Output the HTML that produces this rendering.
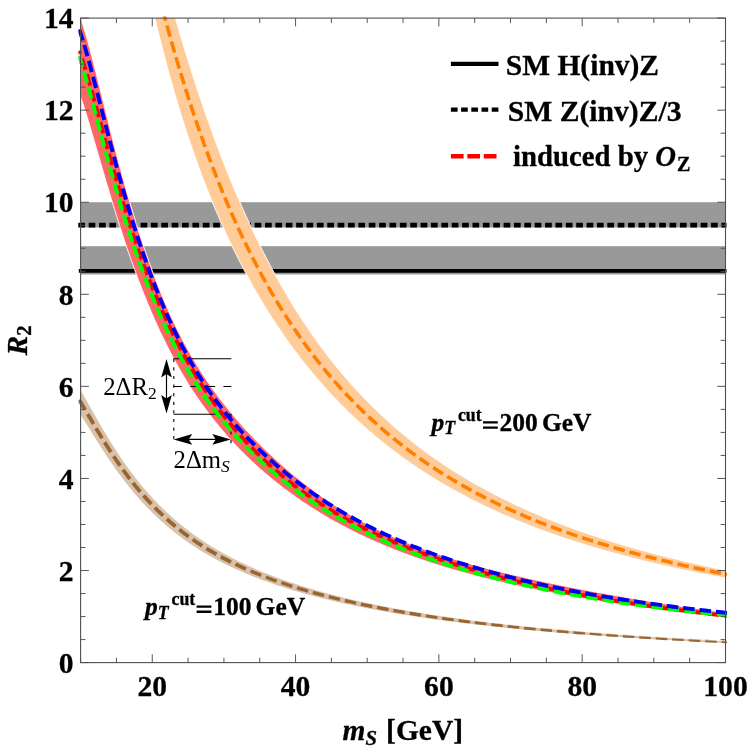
<!DOCTYPE html>
<html><head><meta charset="utf-8">
<style>
html,body{margin:0;padding:0;background:#fff;}
svg{display:block;will-change:transform;font-family:"Liberation Serif",serif;}
.b{font-weight:bold;stroke:#000;stroke-width:0.3px;}
.r{font-weight:normal;}
.bi{font-weight:bold;font-style:italic;stroke:#000;stroke-width:0.3px;}
</style></head>
<body>
<svg width="747" height="747" viewBox="0 0 747 747">
<rect width="747" height="747" fill="#fff"/>
<defs><clipPath id="cp"><rect x="78.4" y="16.5" width="649.3" height="646.1"/></clipPath><clipPath id="cb"><rect x="80.6" y="18.1" width="644.9" height="644.5"/></clipPath></defs>

<!-- grey SM bands + lines -->
<rect x="80.6" y="202.2" width="644.9" height="25.3" fill="#999"/>
<rect x="80.6" y="246.2" width="644.9" height="28.3" fill="#999"/>
<path d="M78.8 270.9H726.5" stroke="#000" stroke-width="3.9" fill="none"/>
<path d="M78.3 225.15H726.5" stroke="#000" stroke-width="4.6" stroke-dasharray="6.7 3.673" fill="none"/>

<g clip-path="url(#cb)">
<!-- bands -->
<path d="M80.60 -366.23 L81.15 -364.64 L81.71 -362.99 L82.27 -361.30 L82.84 -359.55 L83.41 -357.76 L83.99 -355.92 L84.57 -354.02 L85.15 -352.08 L85.74 -350.09 L86.34 -348.05 L86.93 -345.97 L87.54 -343.83 L88.14 -341.65 L88.76 -339.42 L89.37 -337.15 L90.00 -334.83 L90.62 -332.46 L91.25 -330.05 L91.89 -327.60 L92.53 -325.10 L93.18 -322.56 L93.83 -319.97 L94.49 -317.34 L95.15 -314.67 L95.81 -311.95 L96.48 -309.20 L97.16 -306.40 L97.84 -303.56 L98.53 -300.68 L99.22 -297.76 L99.92 -294.81 L100.62 -291.81 L101.33 -288.77 L102.05 -285.70 L102.77 -282.59 L103.49 -279.44 L104.22 -276.25 L104.96 -273.03 L105.70 -269.77 L106.45 -266.48 L107.20 -263.15 L107.96 -259.79 L108.73 -256.40 L109.50 -252.97 L110.28 -249.51 L111.06 -246.01 L111.85 -242.49 L112.65 -238.93 L113.45 -235.34 L114.26 -231.73 L115.07 -228.08 L115.89 -224.40 L116.72 -220.70 L117.55 -216.97 L118.39 -213.21 L119.24 -209.42 L120.09 -205.61 L120.95 -201.77 L121.81 -197.90 L122.69 -194.02 L123.57 -190.10 L124.45 -186.16 L125.34 -182.20 L126.24 -178.22 L127.15 -174.21 L128.06 -170.19 L128.99 -166.14 L129.91 -162.07 L130.85 -157.98 L131.79 -153.87 L132.74 -149.75 L133.70 -145.60 L134.66 -141.44 L135.63 -137.25 L136.61 -133.06 L137.60 -128.84 L138.60 -124.61 L139.60 -120.37 L140.61 -116.11 L141.63 -111.83 L142.65 -107.54 L143.68 -103.24 L144.73 -98.93 L145.78 -94.60 L146.83 -90.27 L147.90 -85.92 L148.97 -81.56 L150.06 -77.19 L151.15 -72.81 L152.25 -68.42 L153.35 -64.03 L154.47 -59.62 L155.60 -55.21 L156.73 -50.79 L157.87 -46.37 L159.02 -41.93 L160.18 -37.50 L161.35 -33.05 L162.53 -28.61 L163.72 -24.16 L164.91 -19.70 L166.12 -15.25 L167.34 -10.79 L168.56 -6.32 L169.79 -1.86 L171.04 2.61 L172.29 7.07 L173.55 11.54 L174.83 16.01 L176.11 20.47 L177.40 24.94 L178.70 29.40 L180.02 33.86 L181.34 38.32 L182.67 42.78 L184.01 47.23 L185.37 51.68 L186.73 56.13 L188.11 60.57 L189.49 65.01 L190.89 69.44 L192.29 73.87 L193.71 78.29 L195.14 82.70 L196.58 87.11 L198.03 91.51 L199.49 95.90 L200.96 100.28 L202.45 104.66 L203.94 109.03 L205.45 113.39 L206.97 117.74 L208.50 122.08 L210.04 126.41 L211.60 130.73 L213.16 135.03 L214.74 139.33 L216.33 143.62 L217.94 147.89 L219.55 152.16 L221.18 156.41 L222.82 160.64 L224.48 164.87 L226.14 169.08 L227.82 173.28 L229.51 177.46 L231.22 181.64 L232.94 185.79 L234.67 189.93 L236.41 194.06 L238.17 198.17 L239.94 202.27 L241.73 206.35 L243.53 210.41 L245.34 214.46 L247.17 218.49 L249.01 222.51 L250.87 226.51 L252.74 230.49 L254.62 234.45 L256.52 238.40 L258.44 242.32 L260.36 246.23 L262.31 250.11 L264.27 253.98 L266.24 257.83 L268.23 261.65 L270.23 265.46 L272.25 269.24 L274.29 273.01 L276.34 276.75 L278.41 280.47 L280.49 284.17 L282.59 287.84 L284.71 291.49 L286.84 295.13 L288.99 298.73 L291.15 302.32 L293.33 305.88 L295.53 309.42 L297.75 312.93 L299.98 316.42 L302.23 319.89 L304.50 323.33 L306.78 326.75 L309.08 330.14 L311.40 333.51 L313.74 336.86 L316.10 340.18 L318.47 343.48 L320.87 346.75 L323.28 349.99 L325.71 353.21 L328.16 356.41 L330.62 359.58 L333.11 362.73 L335.62 365.85 L338.14 368.95 L340.69 372.02 L343.25 375.06 L345.84 378.08 L348.44 381.08 L351.07 384.05 L353.71 386.99 L356.38 389.91 L359.06 392.81 L361.77 395.68 L364.50 398.53 L367.24 401.35 L370.01 404.14 L372.81 406.92 L375.62 409.67 L378.45 412.39 L381.31 415.09 L384.19 417.77 L387.09 420.42 L390.01 423.05 L392.96 425.66 L395.93 428.24 L398.92 430.80 L401.93 433.33 L404.97 435.84 L408.03 438.33 L411.12 440.80 L414.23 443.24 L417.36 445.67 L420.52 448.06 L423.70 450.44 L426.91 452.80 L430.14 455.13 L433.39 457.44 L436.67 459.72 L439.98 461.99 L443.31 464.24 L446.67 466.46 L450.06 468.66 L453.47 470.84 L456.90 473.00 L460.36 475.14 L463.85 477.26 L467.37 479.35 L470.92 481.43 L474.49 483.48 L478.09 485.52 L481.71 487.54 L485.37 489.53 L489.05 491.51 L492.76 493.46 L496.50 495.40 L500.27 497.31 L504.07 499.21 L507.90 501.09 L511.75 502.95 L515.64 504.79 L519.56 506.61 L523.51 508.41 L527.48 510.19 L531.49 511.96 L535.53 513.71 L539.60 515.44 L543.71 517.15 L547.84 518.84 L552.01 520.51 L556.20 522.17 L560.43 523.81 L564.70 525.44 L568.99 527.04 L573.32 528.63 L577.69 530.20 L582.08 531.76 L586.51 533.30 L590.98 534.82 L595.48 536.33 L600.01 537.82 L604.58 539.29 L609.19 540.75 L613.83 542.19 L618.50 543.62 L623.22 545.03 L627.96 546.42 L632.75 547.80 L637.57 549.17 L642.43 550.52 L647.33 551.85 L652.26 553.17 L657.24 554.48 L662.25 555.77 L667.30 557.05 L672.39 558.31 L677.52 559.56 L682.69 560.79 L687.90 562.01 L693.14 563.22 L698.43 564.41 L703.76 565.59 L709.14 566.76 L714.55 567.92 L720.00 569.06 L725.50 570.18 L725.50 577.98 L720.00 576.97 L714.55 575.96 L709.14 574.94 L703.76 573.90 L698.43 572.85 L693.14 571.79 L687.90 570.71 L682.69 569.63 L677.52 568.53 L672.39 567.42 L667.30 566.29 L662.25 565.16 L657.24 564.01 L652.26 562.85 L647.33 561.67 L642.43 560.48 L637.57 559.28 L632.75 558.07 L627.96 556.84 L623.22 555.60 L618.50 554.34 L613.83 553.07 L609.19 551.79 L604.58 550.49 L600.01 549.18 L595.48 547.85 L590.98 546.51 L586.51 545.16 L582.08 543.79 L577.69 542.41 L573.32 541.01 L568.99 539.59 L564.70 538.17 L560.43 536.72 L556.20 535.26 L552.01 533.79 L547.84 532.30 L543.71 530.80 L539.60 529.28 L535.53 527.74 L531.49 526.19 L527.48 524.62 L523.51 523.04 L519.56 521.44 L515.64 519.82 L511.75 518.19 L507.90 516.54 L504.07 514.88 L500.27 513.20 L496.50 511.50 L492.76 509.79 L489.05 508.06 L485.37 506.31 L481.71 504.54 L478.09 502.76 L474.49 500.96 L470.92 499.15 L467.37 497.31 L463.85 495.46 L460.36 493.60 L456.90 491.71 L453.47 489.81 L450.06 487.89 L446.67 485.95 L443.31 483.99 L439.98 482.02 L436.67 480.03 L433.39 478.02 L430.14 475.99 L426.91 473.95 L423.70 471.89 L420.52 469.81 L417.36 467.71 L414.23 465.59 L411.12 463.46 L408.03 461.30 L404.97 459.13 L401.93 456.94 L398.92 454.73 L395.93 452.51 L392.96 450.26 L390.01 448.00 L387.09 445.72 L384.19 443.42 L381.31 441.10 L378.45 438.77 L375.62 436.41 L372.81 434.04 L370.01 431.65 L367.24 429.24 L364.50 426.81 L361.77 424.37 L359.06 421.90 L356.38 419.42 L353.71 416.92 L351.07 414.40 L348.44 411.87 L345.84 409.31 L343.25 406.74 L340.69 404.15 L338.14 401.54 L335.62 398.92 L333.11 396.27 L330.62 393.61 L328.16 390.93 L325.71 388.24 L323.28 385.52 L320.87 382.79 L318.47 380.04 L316.10 377.28 L313.74 374.49 L311.40 371.69 L309.08 368.87 L306.78 366.03 L304.50 363.18 L302.23 360.30 L299.98 357.41 L297.75 354.50 L295.53 351.57 L293.33 348.63 L291.15 345.66 L288.99 342.68 L286.84 339.68 L284.71 336.66 L282.59 333.62 L280.49 330.57 L278.41 327.49 L276.34 324.40 L274.29 321.29 L272.25 318.16 L270.23 315.01 L268.23 311.84 L266.24 308.65 L264.27 305.45 L262.31 302.22 L260.36 298.98 L258.44 295.72 L256.52 292.44 L254.62 289.14 L252.74 285.82 L250.87 282.48 L249.01 279.12 L247.17 275.74 L245.34 272.35 L243.53 268.93 L241.73 265.50 L239.94 262.04 L238.17 258.57 L236.41 255.07 L234.67 251.56 L232.94 248.02 L231.22 244.47 L229.51 240.89 L227.82 237.30 L226.14 233.69 L224.48 230.05 L222.82 226.40 L221.18 222.72 L219.55 219.03 L217.94 215.31 L216.33 211.58 L214.74 207.82 L213.16 204.04 L211.60 200.24 L210.04 196.43 L208.50 192.59 L206.97 188.72 L205.45 184.84 L203.94 180.94 L202.45 177.02 L200.96 173.07 L199.49 169.10 L198.03 165.11 L196.58 161.10 L195.14 157.07 L193.71 153.02 L192.29 148.94 L190.89 144.84 L189.49 140.72 L188.11 136.58 L186.73 132.42 L185.37 128.23 L184.01 124.02 L182.67 119.79 L181.34 115.54 L180.02 111.26 L178.70 106.96 L177.40 102.63 L176.11 98.29 L174.83 93.92 L173.55 89.52 L172.29 85.11 L171.04 80.67 L169.79 76.20 L168.56 71.71 L167.34 67.20 L166.12 62.66 L164.91 58.10 L163.72 53.52 L162.53 48.91 L161.35 44.27 L160.18 39.61 L159.02 34.93 L157.87 30.22 L156.73 25.48 L155.60 20.72 L154.47 15.94 L153.35 11.12 L152.25 6.28 L151.15 1.42 L150.06 -3.47 L148.97 -8.39 L147.90 -13.33 L146.83 -18.30 L145.78 -23.30 L144.73 -28.33 L143.68 -33.38 L142.65 -38.46 L141.63 -43.57 L140.61 -48.70 L139.60 -53.87 L138.60 -59.06 L137.60 -64.28 L136.61 -69.53 L135.63 -74.81 L134.66 -80.12 L133.70 -85.46 L132.74 -90.82 L131.79 -96.22 L130.85 -101.65 L129.91 -107.10 L128.99 -112.59 L128.06 -118.11 L127.15 -123.66 L126.24 -129.24 L125.34 -134.86 L124.45 -140.50 L123.57 -146.18 L122.69 -151.88 L121.81 -157.63 L120.95 -163.40 L120.09 -169.21 L119.24 -175.05 L118.39 -180.92 L117.55 -186.83 L116.72 -192.77 L115.89 -198.75 L115.07 -204.76 L114.26 -210.81 L113.45 -216.89 L112.65 -223.01 L111.85 -229.16 L111.06 -235.35 L110.28 -241.58 L109.50 -247.84 L108.73 -254.14 L107.96 -260.48 L107.20 -266.86 L106.45 -273.28 L105.70 -279.73 L104.96 -286.22 L104.22 -292.76 L103.49 -299.33 L102.77 -305.94 L102.05 -312.60 L101.33 -319.29 L100.62 -326.03 L99.92 -332.81 L99.22 -339.63 L98.53 -346.49 L97.84 -353.39 L97.16 -360.34 L96.48 -367.34 L95.81 -374.37 L95.15 -381.45 L94.49 -388.58 L93.83 -395.75 L93.18 -402.97 L92.53 -410.24 L91.89 -417.55 L91.25 -424.91 L90.62 -432.32 L90.00 -439.78 L89.37 -447.28 L88.76 -454.84 L88.14 -462.44 L87.54 -470.10 L86.93 -477.80 L86.34 -485.56 L85.74 -493.37 L85.15 -501.24 L84.57 -509.15 L83.99 -517.12 L83.41 -525.15 L82.84 -533.23 L82.27 -541.36 L81.71 -549.55 L81.15 -557.80 L80.60 -566.11Z" fill="#ffcc99" stroke="#fff" stroke-width="0.9"/>
<path d="M80.60 18.08 L81.15 19.66 L81.71 21.31 L82.27 23.00 L82.84 24.75 L83.41 26.55 L83.99 28.40 L84.57 30.30 L85.15 32.25 L85.74 34.25 L86.34 36.30 L86.93 38.39 L87.54 40.53 L88.14 42.71 L88.76 44.93 L89.37 47.20 L90.00 49.50 L90.62 51.85 L91.25 54.24 L91.89 56.66 L92.53 59.12 L93.18 61.62 L93.83 64.15 L94.49 66.72 L95.15 69.32 L95.81 71.95 L96.48 74.61 L97.16 77.30 L97.84 80.02 L98.53 82.78 L99.22 85.55 L99.92 88.36 L100.62 91.19 L101.33 94.04 L102.05 96.92 L102.77 99.82 L103.49 102.74 L104.22 105.68 L104.96 108.64 L105.70 111.62 L106.45 114.62 L107.20 117.64 L107.96 120.67 L108.73 123.72 L109.50 126.78 L110.28 129.85 L111.06 132.94 L111.85 136.04 L112.65 139.15 L113.45 142.27 L114.26 145.40 L115.07 148.54 L115.89 151.69 L116.72 154.85 L117.55 158.01 L118.39 161.17 L119.24 164.35 L120.09 167.52 L120.95 170.70 L121.81 173.88 L122.69 177.07 L123.57 180.25 L124.45 183.44 L125.34 186.63 L126.24 189.81 L127.15 193.00 L128.06 196.18 L128.99 199.36 L129.91 202.54 L130.85 205.71 L131.79 208.88 L132.74 212.04 L133.70 215.20 L134.66 218.36 L135.63 221.50 L136.61 224.64 L137.60 227.78 L138.60 230.90 L139.60 234.02 L140.61 237.13 L141.63 240.22 L142.65 243.31 L143.68 246.39 L144.73 249.46 L145.78 252.51 L146.83 255.56 L147.90 258.59 L148.97 261.61 L150.06 264.62 L151.15 267.62 L152.25 270.60 L153.35 273.57 L154.47 276.52 L155.60 279.46 L156.73 282.39 L157.87 285.30 L159.02 288.19 L160.18 291.07 L161.35 293.94 L162.53 296.79 L163.72 299.62 L164.91 302.43 L166.12 305.23 L167.34 308.02 L168.56 310.78 L169.79 313.53 L171.04 316.26 L172.29 318.97 L173.55 321.66 L174.83 324.34 L176.11 327.00 L177.40 329.64 L178.70 332.26 L180.02 334.86 L181.34 337.44 L182.67 340.01 L184.01 342.55 L185.37 345.08 L186.73 347.59 L188.11 350.07 L189.49 352.54 L190.89 354.99 L192.29 357.42 L193.71 359.83 L195.14 362.22 L196.58 364.59 L198.03 366.94 L199.49 369.28 L200.96 371.60 L202.45 373.90 L203.94 376.19 L205.45 378.46 L206.97 380.71 L208.50 382.95 L210.04 385.18 L211.60 387.39 L213.16 389.59 L214.74 391.78 L216.33 393.95 L217.94 396.11 L219.55 398.25 L221.18 400.39 L222.82 402.51 L224.48 404.62 L226.14 406.72 L227.82 408.81 L229.51 410.89 L231.22 412.96 L232.94 415.01 L234.67 417.06 L236.41 419.10 L238.17 421.13 L239.94 423.15 L241.73 425.16 L243.53 427.16 L245.34 429.16 L247.17 431.14 L249.01 433.12 L250.87 435.09 L252.74 437.05 L254.62 439.00 L256.52 440.95 L258.44 442.89 L260.36 444.82 L262.31 446.75 L264.27 448.66 L266.24 450.58 L268.23 452.48 L270.23 454.38 L272.25 456.27 L274.29 458.16 L276.34 460.03 L278.41 461.91 L280.49 463.77 L282.59 465.63 L284.71 467.49 L286.84 469.33 L288.99 471.17 L291.15 473.00 L293.33 474.83 L295.53 476.64 L297.75 478.45 L299.98 480.24 L302.23 482.03 L304.50 483.81 L306.78 485.57 L309.08 487.33 L311.40 489.07 L313.74 490.81 L316.10 492.53 L318.47 494.24 L320.87 495.94 L323.28 497.62 L325.71 499.30 L328.16 500.96 L330.62 502.61 L333.11 504.24 L335.62 505.86 L338.14 507.47 L340.69 509.07 L343.25 510.65 L345.84 512.22 L348.44 513.77 L351.07 515.31 L353.71 516.84 L356.38 518.35 L359.06 519.84 L361.77 521.33 L364.50 522.79 L367.24 524.25 L370.01 525.68 L372.81 527.11 L375.62 528.52 L378.45 529.91 L381.31 531.29 L384.19 532.65 L387.09 534.00 L390.01 535.34 L392.96 536.66 L395.93 537.96 L398.92 539.25 L401.93 540.52 L404.97 541.78 L408.03 543.03 L411.12 544.26 L414.23 545.47 L417.36 546.67 L420.52 547.86 L423.70 549.02 L426.91 550.18 L430.14 551.32 L433.39 552.45 L436.67 553.56 L439.98 554.66 L443.31 555.75 L446.67 556.82 L450.06 557.89 L453.47 558.94 L456.90 559.98 L460.36 561.01 L463.85 562.03 L467.37 563.04 L470.92 564.05 L474.49 565.04 L478.09 566.02 L481.71 567.00 L485.37 567.97 L489.05 568.93 L492.76 569.88 L496.50 570.83 L500.27 571.76 L504.07 572.70 L507.90 573.62 L511.75 574.54 L515.64 575.45 L519.56 576.36 L523.51 577.26 L527.48 578.16 L531.49 579.05 L535.53 579.94 L539.60 580.82 L543.71 581.70 L547.84 582.57 L552.01 583.44 L556.20 584.31 L560.43 585.17 L564.70 586.03 L568.99 586.88 L573.32 587.73 L577.69 588.58 L582.08 589.42 L586.51 590.26 L590.98 591.10 L595.48 591.93 L600.01 592.76 L604.58 593.59 L609.19 594.41 L613.83 595.24 L618.50 596.06 L623.22 596.87 L627.96 597.69 L632.75 598.50 L637.57 599.31 L642.43 600.11 L647.33 600.91 L652.26 601.71 L657.24 602.51 L662.25 603.31 L667.30 604.10 L672.39 604.89 L677.52 605.68 L682.69 606.46 L687.90 607.24 L693.14 608.02 L698.43 608.80 L703.76 609.57 L709.14 610.34 L714.55 611.11 L720.00 611.87 L725.50 612.63 L725.50 617.43 L720.00 616.84 L714.55 616.25 L709.14 615.65 L703.76 615.05 L698.43 614.44 L693.14 613.82 L687.90 613.20 L682.69 612.58 L677.52 611.94 L672.39 611.31 L667.30 610.67 L662.25 610.02 L657.24 609.37 L652.26 608.71 L647.33 608.05 L642.43 607.38 L637.57 606.70 L632.75 606.02 L627.96 605.34 L623.22 604.64 L618.50 603.95 L613.83 603.24 L609.19 602.53 L604.58 601.82 L600.01 601.10 L595.48 600.37 L590.98 599.64 L586.51 598.90 L582.08 598.15 L577.69 597.40 L573.32 596.64 L568.99 595.88 L564.70 595.11 L560.43 594.33 L556.20 593.55 L552.01 592.76 L547.84 591.96 L543.71 591.15 L539.60 590.34 L535.53 589.53 L531.49 588.70 L527.48 587.87 L523.51 587.03 L519.56 586.19 L515.64 585.34 L511.75 584.48 L507.90 583.61 L504.07 582.73 L500.27 581.85 L496.50 580.96 L492.76 580.06 L489.05 579.16 L485.37 578.25 L481.71 577.32 L478.09 576.39 L474.49 575.46 L470.92 574.51 L467.37 573.56 L463.85 572.59 L460.36 571.62 L456.90 570.64 L453.47 569.65 L450.06 568.66 L446.67 567.65 L443.31 566.63 L439.98 565.61 L436.67 564.57 L433.39 563.53 L430.14 562.48 L426.91 561.41 L423.70 560.34 L420.52 559.26 L417.36 558.16 L414.23 557.06 L411.12 555.94 L408.03 554.82 L404.97 553.69 L401.93 552.54 L398.92 551.39 L395.93 550.22 L392.96 549.05 L390.01 547.86 L387.09 546.66 L384.19 545.46 L381.31 544.24 L378.45 543.01 L375.62 541.78 L372.81 540.53 L370.01 539.27 L367.24 538.00 L364.50 536.73 L361.77 535.44 L359.06 534.14 L356.38 532.83 L353.71 531.51 L351.07 530.18 L348.44 528.84 L345.84 527.49 L343.25 526.13 L340.69 524.75 L338.14 523.37 L335.62 521.98 L333.11 520.58 L330.62 519.17 L328.16 517.75 L325.71 516.32 L323.28 514.87 L320.87 513.42 L318.47 511.96 L316.10 510.49 L313.74 509.01 L311.40 507.52 L309.08 506.02 L306.78 504.51 L304.50 502.99 L302.23 501.47 L299.98 499.93 L297.75 498.38 L295.53 496.83 L293.33 495.26 L291.15 493.69 L288.99 492.11 L286.84 490.52 L284.71 488.92 L282.59 487.31 L280.49 485.69 L278.41 484.06 L276.34 482.43 L274.29 480.79 L272.25 479.13 L270.23 477.47 L268.23 475.80 L266.24 474.12 L264.27 472.43 L262.31 470.73 L260.36 469.02 L258.44 467.31 L256.52 465.58 L254.62 463.84 L252.74 462.10 L250.87 460.34 L249.01 458.58 L247.17 456.80 L245.34 455.02 L243.53 453.22 L241.73 451.42 L239.94 449.60 L238.17 447.78 L236.41 445.94 L234.67 444.09 L232.94 442.24 L231.22 440.37 L229.51 438.50 L227.82 436.61 L226.14 434.71 L224.48 432.80 L222.82 430.88 L221.18 428.95 L219.55 427.01 L217.94 425.05 L216.33 423.09 L214.74 421.11 L213.16 419.13 L211.60 417.13 L210.04 415.11 L208.50 413.09 L206.97 411.06 L205.45 409.01 L203.94 406.95 L202.45 404.88 L200.96 402.79 L199.49 400.69 L198.03 398.58 L196.58 396.46 L195.14 394.32 L193.71 392.17 L192.29 390.01 L190.89 387.83 L189.49 385.64 L188.11 383.44 L186.73 381.22 L185.37 378.99 L184.01 376.75 L182.67 374.49 L181.34 372.22 L180.02 369.93 L178.70 367.64 L177.40 365.33 L176.11 363.00 L174.83 360.67 L173.55 358.32 L172.29 355.96 L171.04 353.59 L169.79 351.21 L168.56 348.81 L167.34 346.40 L166.12 343.98 L164.91 341.55 L163.72 339.11 L162.53 336.66 L161.35 334.20 L160.18 331.72 L159.02 329.24 L157.87 326.75 L156.73 324.24 L155.60 321.73 L154.47 319.20 L153.35 316.67 L152.25 314.13 L151.15 311.58 L150.06 309.02 L148.97 306.45 L147.90 303.88 L146.83 301.29 L145.78 298.70 L144.73 296.11 L143.68 293.50 L142.65 290.89 L141.63 288.27 L140.61 285.65 L139.60 283.02 L138.60 280.38 L137.60 277.74 L136.61 275.10 L135.63 272.45 L134.66 269.80 L133.70 267.14 L132.74 264.48 L131.79 261.82 L130.85 259.15 L129.91 256.49 L128.99 253.82 L128.06 251.15 L127.15 248.48 L126.24 245.80 L125.34 243.13 L124.45 240.46 L123.57 237.79 L122.69 235.12 L121.81 232.45 L120.95 229.78 L120.09 227.12 L119.24 224.46 L118.39 221.80 L117.55 219.14 L116.72 216.49 L115.89 213.85 L115.07 211.21 L114.26 208.58 L113.45 205.95 L112.65 203.33 L111.85 200.71 L111.06 198.11 L110.28 195.51 L109.50 192.92 L108.73 190.35 L107.96 187.78 L107.20 185.22 L106.45 182.67 L105.70 180.14 L104.96 177.61 L104.22 175.10 L103.49 172.61 L102.77 170.12 L102.05 167.65 L101.33 165.20 L100.62 162.76 L99.92 160.34 L99.22 157.94 L98.53 155.55 L97.84 153.18 L97.16 150.83 L96.48 148.50 L95.81 146.19 L95.15 143.90 L94.49 141.63 L93.83 139.38 L93.18 137.15 L92.53 134.95 L91.89 132.77 L91.25 130.62 L90.62 128.49 L90.00 126.38 L89.37 124.30 L88.76 122.25 L88.14 120.23 L87.54 118.23 L86.93 116.26 L86.34 114.33 L85.74 112.42 L85.15 110.54 L84.57 108.69 L83.99 106.88 L83.41 105.09 L82.84 103.34 L82.27 101.63 L81.71 99.95 L81.15 98.30 L80.60 96.69Z" fill="#ff6666" stroke="#fff" stroke-width="0.9"/>
<path d="M79.17 387.27 L79.72 388.20 L80.27 389.14 L80.82 390.09 L81.39 391.06 L81.95 392.04 L82.52 393.03 L83.09 394.03 L83.67 395.04 L84.26 396.07 L84.84 397.10 L85.44 398.15 L86.03 399.20 L86.64 400.27 L87.24 401.34 L87.85 402.43 L88.47 403.52 L89.09 404.63 L89.72 405.74 L90.35 406.86 L90.98 407.99 L91.62 409.13 L92.27 410.27 L92.92 411.43 L93.57 412.59 L94.23 413.75 L94.90 414.93 L95.57 416.11 L96.25 417.30 L96.93 418.49 L97.61 419.69 L98.31 420.90 L99.00 422.11 L99.71 423.33 L100.42 424.55 L101.13 425.77 L101.85 427.01 L102.57 428.24 L103.31 429.48 L104.04 430.73 L104.78 431.98 L105.53 433.23 L106.29 434.48 L107.05 435.74 L107.81 437.00 L108.58 438.27 L109.36 439.54 L110.14 440.81 L110.93 442.08 L111.73 443.35 L112.53 444.63 L113.34 445.91 L114.16 447.18 L114.98 448.47 L115.81 449.75 L116.64 451.03 L117.48 452.31 L118.33 453.60 L119.18 454.88 L120.04 456.17 L120.91 457.45 L121.78 458.73 L122.66 460.02 L123.55 461.30 L124.45 462.59 L125.35 463.87 L126.26 465.15 L127.17 466.43 L128.09 467.71 L129.02 468.99 L129.96 470.27 L130.91 471.54 L131.86 472.81 L132.82 474.09 L133.78 475.35 L134.76 476.62 L135.74 477.89 L136.73 479.15 L137.73 480.41 L138.73 481.67 L139.75 482.92 L140.77 484.17 L141.80 485.42 L142.83 486.67 L143.88 487.91 L144.93 489.15 L145.99 490.38 L147.06 491.61 L148.14 492.84 L149.23 494.06 L150.32 495.28 L151.43 496.50 L152.54 497.71 L153.66 498.92 L154.79 500.12 L155.93 501.32 L157.07 502.52 L158.23 503.71 L159.40 504.89 L160.57 506.07 L161.75 507.25 L162.95 508.42 L164.15 509.59 L165.36 510.75 L166.58 511.91 L167.81 513.06 L169.05 514.20 L170.30 515.34 L171.56 516.48 L172.83 517.61 L174.11 518.73 L175.40 519.85 L176.70 520.97 L178.01 522.07 L179.33 523.18 L180.66 524.27 L182.00 525.36 L183.35 526.45 L184.71 527.53 L186.08 528.60 L187.46 529.67 L188.86 530.73 L190.26 531.78 L191.68 532.83 L193.10 533.88 L194.54 534.92 L195.99 535.95 L197.45 536.97 L198.92 537.99 L200.40 539.00 L201.90 540.01 L203.40 541.01 L204.92 542.00 L206.45 542.99 L207.99 543.97 L209.55 544.95 L211.11 545.92 L212.69 546.88 L214.28 547.84 L215.88 548.80 L217.50 549.74 L219.13 550.68 L220.77 551.62 L222.42 552.55 L224.09 553.47 L225.77 554.39 L227.46 555.30 L229.16 556.21 L230.88 557.11 L232.61 558.00 L234.36 558.89 L236.12 559.77 L237.89 560.65 L239.68 561.53 L241.48 562.39 L243.30 563.25 L245.13 564.11 L246.97 564.96 L248.83 565.81 L250.70 566.65 L252.59 567.48 L254.49 568.31 L256.40 569.14 L258.34 569.96 L260.28 570.77 L262.24 571.58 L264.22 572.38 L266.21 573.18 L268.22 573.98 L270.25 574.76 L272.29 575.55 L274.34 576.33 L276.41 577.10 L278.50 577.87 L280.61 578.63 L282.73 579.39 L284.86 580.14 L287.02 580.89 L289.19 581.63 L291.37 582.37 L293.58 583.11 L295.80 583.84 L298.04 584.56 L300.30 585.28 L302.57 585.99 L304.86 586.70 L307.17 587.41 L309.50 588.11 L311.85 588.81 L314.21 589.50 L316.59 590.18 L318.99 590.86 L321.41 591.54 L323.85 592.21 L326.31 592.88 L328.79 593.55 L331.28 594.20 L333.80 594.86 L336.34 595.51 L338.89 596.15 L341.47 596.80 L344.06 597.43 L346.68 598.06 L349.31 598.69 L351.97 599.32 L354.65 599.93 L357.35 600.55 L360.07 601.16 L362.81 601.76 L365.57 602.37 L368.35 602.96 L371.16 603.56 L373.99 604.15 L376.84 604.73 L379.71 605.31 L382.60 605.89 L385.52 606.46 L388.46 607.03 L391.42 607.59 L394.40 608.15 L397.41 608.71 L400.45 609.26 L403.50 609.80 L406.58 610.35 L409.68 610.89 L412.81 611.42 L415.97 611.95 L419.14 612.48 L422.34 613.00 L425.57 613.52 L428.82 614.04 L432.10 614.55 L435.40 615.06 L438.73 615.56 L442.09 616.06 L445.47 616.56 L448.87 617.05 L452.31 617.54 L455.77 618.02 L459.26 618.50 L462.77 618.98 L466.31 619.45 L469.88 619.92 L473.48 620.39 L477.11 620.85 L480.76 621.31 L484.44 621.76 L488.16 622.21 L491.90 622.66 L495.67 623.10 L499.47 623.54 L503.29 623.98 L507.15 624.41 L511.04 624.84 L514.96 625.27 L518.91 625.69 L522.89 626.11 L526.90 626.52 L530.95 626.94 L535.02 627.34 L539.13 627.75 L543.27 628.15 L547.44 628.55 L551.64 628.94 L555.87 629.33 L560.14 629.72 L564.45 630.11 L568.78 630.49 L573.15 630.87 L577.56 631.24 L581.99 631.61 L586.47 631.98 L590.98 632.34 L595.52 632.71 L600.10 633.06 L604.71 633.42 L609.36 633.77 L614.05 634.12 L618.77 634.46 L623.53 634.81 L628.33 635.15 L633.16 635.48 L638.04 635.82 L642.95 636.15 L647.89 636.47 L652.88 636.80 L657.91 637.12 L662.97 637.43 L668.08 637.75 L673.22 638.06 L678.41 638.37 L683.63 638.68 L688.90 638.98 L694.21 639.28 L699.56 639.58 L704.95 639.87 L710.38 640.16 L715.85 640.45 L721.37 640.74 L726.93 641.02 L726.93 643.00 L721.37 642.74 L715.85 642.48 L710.38 642.22 L704.95 641.95 L699.56 641.69 L694.21 641.42 L688.90 641.14 L683.63 640.87 L678.41 640.59 L673.22 640.31 L668.08 640.03 L662.97 639.74 L657.91 639.45 L652.88 639.16 L647.89 638.87 L642.95 638.57 L638.04 638.27 L633.16 637.97 L628.33 637.66 L623.53 637.35 L618.77 637.04 L614.05 636.73 L609.36 636.41 L604.71 636.09 L600.10 635.77 L595.52 635.44 L590.98 635.12 L586.47 634.78 L581.99 634.45 L577.56 634.11 L573.15 633.77 L568.78 633.43 L564.45 633.08 L560.14 632.73 L555.87 632.38 L551.64 632.03 L547.44 631.67 L543.27 631.31 L539.13 630.94 L535.02 630.57 L530.95 630.20 L526.90 629.83 L522.89 629.45 L518.91 629.07 L514.96 628.69 L511.04 628.30 L507.15 627.91 L503.29 627.52 L499.47 627.12 L495.67 626.72 L491.90 626.32 L488.16 625.91 L484.44 625.50 L480.76 625.09 L477.11 624.67 L473.48 624.25 L469.88 623.83 L466.31 623.41 L462.77 622.98 L459.26 622.54 L455.77 622.11 L452.31 621.67 L448.87 621.22 L445.47 620.77 L442.09 620.32 L438.73 619.87 L435.40 619.41 L432.10 618.95 L428.82 618.49 L425.57 618.02 L422.34 617.55 L419.14 617.07 L415.97 616.59 L412.81 616.11 L409.68 615.62 L406.58 615.13 L403.50 614.64 L400.45 614.14 L397.41 613.64 L394.40 613.14 L391.42 612.63 L388.46 612.12 L385.52 611.60 L382.60 611.08 L379.71 610.56 L376.84 610.03 L373.99 609.50 L371.16 608.97 L368.35 608.43 L365.57 607.88 L362.81 607.34 L360.07 606.79 L357.35 606.23 L354.65 605.67 L351.97 605.11 L349.31 604.55 L346.68 603.98 L344.06 603.40 L341.47 602.82 L338.89 602.24 L336.34 601.65 L333.80 601.06 L331.28 600.47 L328.79 599.87 L326.31 599.27 L323.85 598.66 L321.41 598.05 L318.99 597.44 L316.59 596.82 L314.21 596.19 L311.85 595.57 L309.50 594.93 L307.17 594.30 L304.86 593.66 L302.57 593.01 L300.30 592.36 L298.04 591.71 L295.80 591.05 L293.58 590.39 L291.37 589.72 L289.19 589.05 L287.02 588.38 L284.86 587.70 L282.73 587.01 L280.61 586.32 L278.50 585.63 L276.41 584.93 L274.34 584.23 L272.29 583.52 L270.25 582.81 L268.22 582.09 L266.21 581.37 L264.22 580.65 L262.24 579.92 L260.28 579.18 L258.34 578.44 L256.40 577.70 L254.49 576.95 L252.59 576.20 L250.70 575.44 L248.83 574.67 L246.97 573.91 L245.13 573.13 L243.30 572.35 L241.48 571.57 L239.68 570.78 L237.89 569.99 L236.12 569.19 L234.36 568.39 L232.61 567.58 L230.88 566.77 L229.16 565.95 L227.46 565.13 L225.77 564.30 L224.09 563.47 L222.42 562.63 L220.77 561.78 L219.13 560.93 L217.50 560.08 L215.88 559.22 L214.28 558.36 L212.69 557.48 L211.11 556.61 L209.55 555.73 L207.99 554.84 L206.45 553.95 L204.92 553.05 L203.40 552.15 L201.90 551.24 L200.40 550.33 L198.92 549.41 L197.45 548.48 L195.99 547.55 L194.54 546.61 L193.10 545.67 L191.68 544.72 L190.26 543.77 L188.86 542.81 L187.46 541.84 L186.08 540.88 L184.71 539.90 L183.35 538.92 L182.00 537.93 L180.66 536.94 L179.33 535.95 L178.01 534.95 L176.70 533.94 L175.40 532.93 L174.11 531.91 L172.83 530.89 L171.56 529.86 L170.30 528.83 L169.05 527.80 L167.81 526.76 L166.58 525.71 L165.36 524.66 L164.15 523.60 L162.95 522.54 L161.75 521.48 L160.57 520.41 L159.40 519.34 L158.23 518.26 L157.07 517.18 L155.93 516.10 L154.79 515.01 L153.66 513.91 L152.54 512.82 L151.43 511.72 L150.32 510.61 L149.23 509.50 L148.14 508.39 L147.06 507.28 L145.99 506.16 L144.93 505.04 L143.88 503.91 L142.83 502.78 L141.80 501.65 L140.77 500.52 L139.75 499.38 L138.73 498.24 L137.73 497.10 L136.73 495.95 L135.74 494.81 L134.76 493.66 L133.78 492.51 L132.82 491.35 L131.86 490.20 L130.91 489.04 L129.96 487.88 L129.02 486.72 L128.09 485.56 L127.17 484.40 L126.26 483.24 L125.35 482.07 L124.45 480.91 L123.55 479.74 L122.66 478.58 L121.78 477.41 L120.91 476.24 L120.04 475.08 L119.18 473.91 L118.33 472.74 L117.48 471.58 L116.64 470.41 L115.81 469.24 L114.98 468.08 L114.16 466.92 L113.34 465.76 L112.53 464.59 L111.73 463.44 L110.93 462.28 L110.14 461.12 L109.36 459.97 L108.58 458.82 L107.81 457.67 L107.05 456.52 L106.29 455.38 L105.53 454.24 L104.78 453.10 L104.04 451.97 L103.31 450.84 L102.57 449.71 L101.85 448.59 L101.13 447.47 L100.42 446.35 L99.71 445.24 L99.00 444.14 L98.31 443.04 L97.61 441.94 L96.93 440.85 L96.25 439.77 L95.57 438.69 L94.90 437.62 L94.23 436.55 L93.57 435.49 L92.92 434.43 L92.27 433.39 L91.62 432.35 L90.98 431.31 L90.35 430.29 L89.72 429.27 L89.09 428.26 L88.47 427.26 L87.85 426.26 L87.24 425.28 L86.64 424.30 L86.03 423.33 L85.44 422.37 L84.84 421.42 L84.26 420.48 L83.67 419.55 L83.09 418.63 L82.52 417.72 L81.95 416.82 L81.39 415.93 L80.82 415.05 L80.27 414.19 L79.72 413.33 L79.17 412.49Z" fill="#d9c2ab"/>
</g>

<!-- annotation -->
<g stroke="#000" fill="none" stroke-width="1.1">
<path d="M173.6 358.7H231.3M173.6 414.2H231.3"/>
<path d="M173.6 386.5H231.3" stroke-dasharray="8.3 8.3"/>
<path d="M173.79999999999998 358.7V444" stroke-dasharray="3.2 5.4"/>
<path d="M231.0 414.2V447.2" stroke-dasharray="3.2 5.4"/>
<path d="M166.5 366.7V406.2M181.6 439.4H223.3" stroke-width="1.15"/>
</g>
<path d="M166.50 359.00L161.20 377.50L166.50 374.00L171.80 377.50ZM166.50 413.60L171.80 395.10L166.50 398.60L161.20 395.10ZM173.70 439.40L192.20 444.70L188.70 439.40L192.20 434.10ZM230.80 439.40L212.30 434.10L215.80 439.40L212.30 444.70Z" fill="#000"/>

<g clip-path="url(#cp)" fill="none" stroke-dasharray="11.6 4.9">
<path d="M79.17 -343.51 L79.72 -342.04 L80.27 -340.51 L80.82 -338.92 L81.39 -337.27 L81.95 -335.56 L82.52 -333.80 L83.09 -331.97 L83.67 -330.09 L84.26 -328.15 L84.84 -326.15 L85.44 -324.09 L86.03 -321.98 L86.64 -319.82 L87.24 -317.60 L87.85 -315.33 L88.47 -313.00 L89.09 -310.62 L89.72 -308.19 L90.35 -305.71 L90.98 -303.17 L91.62 -300.59 L92.27 -297.95 L92.92 -295.27 L93.57 -292.54 L94.23 -289.76 L94.90 -286.93 L95.57 -284.06 L96.25 -281.14 L96.93 -278.17 L97.61 -275.16 L98.31 -272.10 L99.00 -269.01 L99.71 -265.87 L100.42 -262.68 L101.13 -259.46 L101.85 -256.20 L102.57 -252.89 L103.31 -249.55 L104.04 -246.16 L104.78 -242.74 L105.53 -239.28 L106.29 -235.79 L107.05 -232.26 L107.81 -228.69 L108.58 -225.09 L109.36 -221.46 L110.14 -217.79 L110.93 -214.09 L111.73 -210.36 L112.53 -206.60 L113.34 -202.80 L114.16 -198.98 L114.98 -195.13 L115.81 -191.25 L116.64 -187.34 L117.48 -183.40 L118.33 -179.44 L119.18 -175.46 L120.04 -171.45 L120.91 -167.41 L121.78 -163.35 L122.66 -159.27 L123.55 -155.17 L124.45 -151.04 L125.35 -146.89 L126.26 -142.73 L127.17 -138.54 L128.09 -134.34 L129.02 -130.12 L129.96 -125.88 L130.91 -121.62 L131.86 -117.35 L132.82 -113.06 L133.78 -108.76 L134.76 -104.44 L135.74 -100.11 L136.73 -95.77 L137.73 -91.41 L138.73 -87.05 L139.75 -82.67 L140.77 -78.28 L141.80 -73.88 L142.83 -69.48 L143.88 -65.06 L144.93 -60.64 L145.99 -56.21 L147.06 -51.77 L148.14 -47.33 L149.23 -42.88 L150.32 -38.42 L151.43 -33.97 L152.54 -29.50 L153.66 -25.04 L154.79 -20.57 L155.93 -16.10 L157.07 -11.63 L158.23 -7.16 L159.40 -2.68 L160.57 1.79 L161.75 6.26 L162.95 10.73 L164.15 15.20 L165.36 19.67 L166.58 24.14 L167.81 28.60 L169.05 33.06 L170.30 37.51 L171.56 41.96 L172.83 46.41 L174.11 50.85 L175.40 55.28 L176.70 59.71 L178.01 64.13 L179.33 68.55 L180.66 72.95 L182.00 77.35 L183.35 81.74 L184.71 86.12 L186.08 90.49 L187.46 94.86 L188.86 99.21 L190.26 103.55 L191.68 107.88 L193.10 112.20 L194.54 116.51 L195.99 120.80 L197.45 125.09 L198.92 129.36 L200.40 133.62 L201.90 137.86 L203.40 142.10 L204.92 146.31 L206.45 150.52 L207.99 154.71 L209.55 158.88 L211.11 163.04 L212.69 167.19 L214.28 171.31 L215.88 175.43 L217.50 179.52 L219.13 183.60 L220.77 187.67 L222.42 191.71 L224.09 195.74 L225.77 199.76 L227.46 203.75 L229.16 207.73 L230.88 211.68 L232.61 215.62 L234.36 219.55 L236.12 223.45 L237.89 227.33 L239.68 231.20 L241.48 235.04 L243.30 238.87 L245.13 242.68 L246.97 246.47 L248.83 250.23 L250.70 253.98 L252.59 257.71 L254.49 261.41 L256.40 265.10 L258.34 268.76 L260.28 272.41 L262.24 276.03 L264.22 279.64 L266.21 283.22 L268.22 286.78 L270.25 290.32 L272.29 293.84 L274.34 297.33 L276.41 300.81 L278.50 304.26 L280.61 307.69 L282.73 311.10 L284.86 314.49 L287.02 317.86 L289.19 321.20 L291.37 324.52 L293.58 327.82 L295.80 331.10 L298.04 334.36 L300.30 337.59 L302.57 340.80 L304.86 343.99 L307.17 347.16 L309.50 350.30 L311.85 353.42 L314.21 356.52 L316.59 359.60 L318.99 362.66 L321.41 365.69 L323.85 368.70 L326.31 371.69 L328.79 374.65 L331.28 377.60 L333.80 380.52 L336.34 383.42 L338.89 386.29 L341.47 389.15 L344.06 391.98 L346.68 394.79 L349.31 397.58 L351.97 400.34 L354.65 403.08 L357.35 405.81 L360.07 408.50 L362.81 411.18 L365.57 413.84 L368.35 416.47 L371.16 419.08 L373.99 421.67 L376.84 424.24 L379.71 426.79 L382.60 429.31 L385.52 431.82 L388.46 434.30 L391.42 436.76 L394.40 439.20 L397.41 441.62 L400.45 444.02 L403.50 446.39 L406.58 448.75 L409.68 451.08 L412.81 453.40 L415.97 455.69 L419.14 457.96 L422.34 460.22 L425.57 462.45 L428.82 464.66 L432.10 466.85 L435.40 469.02 L438.73 471.17 L442.09 473.30 L445.47 475.41 L448.87 477.50 L452.31 479.58 L455.77 481.63 L459.26 483.66 L462.77 485.67 L466.31 487.67 L469.88 489.64 L473.48 491.60 L477.11 493.54 L480.76 495.46 L484.44 497.35 L488.16 499.24 L491.90 501.10 L495.67 502.94 L499.47 504.77 L503.29 506.58 L507.15 508.37 L511.04 510.14 L514.96 511.89 L518.91 513.63 L522.89 515.35 L526.90 517.05 L530.95 518.74 L535.02 520.40 L539.13 522.05 L543.27 523.69 L547.44 525.30 L551.64 526.90 L555.87 528.49 L560.14 530.05 L564.45 531.60 L568.78 533.14 L573.15 534.66 L577.56 536.16 L581.99 537.65 L586.47 539.12 L590.98 540.57 L595.52 542.01 L600.10 543.44 L604.71 544.84 L609.36 546.24 L614.05 547.62 L618.77 548.98 L623.53 550.33 L628.33 551.67 L633.16 552.99 L638.04 554.29 L642.95 555.58 L647.89 556.86 L652.88 558.12 L657.91 559.37 L662.97 560.61 L668.08 561.83 L673.22 563.04 L678.41 564.23 L683.63 565.42 L688.90 566.58 L694.21 567.74 L699.56 568.88 L704.95 570.01 L710.38 571.13 L715.85 572.23 L721.37 573.32 L726.93 574.40" stroke="#ff8000" stroke-width="3.6"/>
<path d="M79.17 399.88 L79.72 400.76 L80.27 401.66 L80.82 402.57 L81.39 403.50 L81.95 404.43 L82.52 405.37 L83.09 406.33 L83.67 407.30 L84.26 408.27 L84.84 409.26 L85.44 410.26 L86.03 411.27 L86.64 412.28 L87.24 413.31 L87.85 414.35 L88.47 415.39 L89.09 416.44 L89.72 417.50 L90.35 418.57 L90.98 419.65 L91.62 420.74 L92.27 421.83 L92.92 422.93 L93.57 424.04 L94.23 425.15 L94.90 426.27 L95.57 427.40 L96.25 428.53 L96.93 429.67 L97.61 430.82 L98.31 431.97 L99.00 433.12 L99.71 434.28 L100.42 435.45 L101.13 436.62 L101.85 437.80 L102.57 438.98 L103.31 440.16 L104.04 441.35 L104.78 442.54 L105.53 443.73 L106.29 444.93 L107.05 446.13 L107.81 447.34 L108.58 448.54 L109.36 449.75 L110.14 450.96 L110.93 452.18 L111.73 453.39 L112.53 454.61 L113.34 455.83 L114.16 457.05 L114.98 458.27 L115.81 459.50 L116.64 460.72 L117.48 461.94 L118.33 463.17 L119.18 464.39 L120.04 465.62 L120.91 466.85 L121.78 468.07 L122.66 469.30 L123.55 470.52 L124.45 471.75 L125.35 472.97 L126.26 474.19 L127.17 475.42 L128.09 476.64 L129.02 477.86 L129.96 479.07 L130.91 480.29 L131.86 481.51 L132.82 482.72 L133.78 483.93 L134.76 485.14 L135.74 486.35 L136.73 487.55 L137.73 488.75 L138.73 489.95 L139.75 491.15 L140.77 492.34 L141.80 493.54 L142.83 494.72 L143.88 495.91 L144.93 497.09 L145.99 498.27 L147.06 499.44 L148.14 500.62 L149.23 501.78 L150.32 502.95 L151.43 504.11 L152.54 505.26 L153.66 506.42 L154.79 507.57 L155.93 508.71 L157.07 509.85 L158.23 510.99 L159.40 512.12 L160.57 513.24 L161.75 514.37 L162.95 515.48 L164.15 516.60 L165.36 517.70 L166.58 518.81 L167.81 519.91 L169.05 521.00 L170.30 522.09 L171.56 523.17 L172.83 524.25 L174.11 525.32 L175.40 526.39 L176.70 527.45 L178.01 528.51 L179.33 529.56 L180.66 530.61 L182.00 531.65 L183.35 532.68 L184.71 533.71 L186.08 534.74 L187.46 535.76 L188.86 536.77 L190.26 537.78 L191.68 538.78 L193.10 539.77 L194.54 540.76 L195.99 541.75 L197.45 542.73 L198.92 543.70 L200.40 544.66 L201.90 545.62 L203.40 546.58 L204.92 547.53 L206.45 548.47 L207.99 549.41 L209.55 550.34 L211.11 551.26 L212.69 552.18 L214.28 553.10 L215.88 554.01 L217.50 554.91 L219.13 555.81 L220.77 556.70 L222.42 557.59 L224.09 558.47 L225.77 559.34 L227.46 560.21 L229.16 561.08 L230.88 561.94 L232.61 562.79 L234.36 563.64 L236.12 564.48 L237.89 565.32 L239.68 566.15 L241.48 566.98 L243.30 567.80 L245.13 568.62 L246.97 569.43 L248.83 570.24 L250.70 571.04" stroke="#996633" stroke-width="3.8" stroke-dashoffset="0.00"/><path d="M250.70 571.04 L252.59 571.84 L254.49 572.63 L256.40 573.42 L258.34 574.20 L260.28 574.98 L262.24 575.75 L264.22 576.52 L266.21 577.28 L268.22 578.03 L270.25 578.79 L272.29 579.53 L274.34 580.28 L276.41 581.02 L278.50 581.75 L280.61 582.48 L282.73 583.20 L284.86 583.92 L287.02 584.63 L289.19 585.34 L291.37 586.05 L293.58 586.75 L295.80 587.44 L298.04 588.13 L300.30 588.82 L302.57 589.50 L304.86 590.18 L307.17 590.85 L309.50 591.52 L311.85 592.19 L314.21 592.84 L316.59 593.50 L318.99 594.15 L321.41 594.80 L323.85 595.44 L326.31 596.08 L328.79 596.71 L331.28 597.34 L333.80 597.96 L336.34 598.58 L338.89 599.20 L341.47 599.81 L344.06 600.42 L346.68 601.02 L349.31 601.62 L351.97 602.21 L354.65 602.80 L357.35 603.39 L360.07 603.97 L362.81 604.55 L365.57 605.13 L368.35 605.70 L371.16 606.26 L373.99 606.82 L376.84 607.38 L379.71 607.93 L382.60 608.48 L385.52 609.03 L388.46 609.57 L391.42 610.11 L394.40 610.64 L397.41 611.17 L400.45 611.70 L403.50 612.22 L406.58 612.74 L409.68 613.26 L412.81 613.77 L415.97 614.27 L419.14 614.78 L422.34 615.28" stroke="#996633" stroke-width="3.4" stroke-dashoffset="0.24"/><path d="M422.34 615.28 L425.57 615.77 L428.82 616.26 L432.10 616.75 L435.40 617.24 L438.73 617.72 L442.09 618.19 L445.47 618.67 L448.87 619.14 L452.31 619.60 L455.77 620.06 L459.26 620.52 L462.77 620.98 L466.31 621.43 L469.88 621.88 L473.48 622.32 L477.11 622.76 L480.76 623.20 L484.44 623.63 L488.16 624.06 L491.90 624.49 L495.67 624.91 L499.47 625.33 L503.29 625.75 L507.15 626.16 L511.04 626.57 L514.96 626.98 L518.91 627.38 L522.89 627.78 L526.90 628.18 L530.95 628.57 L535.02 628.96 L539.13 629.35 L543.27 629.73 L547.44 630.11 L551.64 630.48 L555.87 630.86 L560.14 631.23 L564.45 631.60 L568.78 631.96 L573.15 632.32 L577.56 632.68 L581.99 633.03" stroke="#996633" stroke-width="3.0" stroke-dashoffset="12.94"/><path d="M581.99 633.03 L586.47 633.38 L590.98 633.73 L595.52 634.07 L600.10 634.42 L604.71 634.76 L609.36 635.09 L614.05 635.42 L618.77 635.75 L623.53 636.08 L628.33 636.40 L633.16 636.72 L638.04 637.04 L642.95 637.36 L647.89 637.67 L652.88 637.98 L657.91 638.28 L662.97 638.59 L668.08 638.89 L673.22 639.19 L678.41 639.48 L683.63 639.77 L688.90 640.06 L694.21 640.35 L699.56 640.63 L704.95 640.91 L710.38 641.19 L715.85 641.47 L721.37 641.74 L726.93 642.01" stroke="#996633" stroke-width="2.6" stroke-dashoffset="8.61"/>
<path d="M79.17 50.58 L79.72 52.07 L80.27 53.60 L80.82 55.18 L81.39 56.81 L81.95 58.47 L82.52 60.19 L83.09 61.94 L83.67 63.74 L84.26 65.57 L84.84 67.45 L85.44 69.37 L86.03 71.32 L86.64 73.31 L87.24 75.34 L87.85 77.41 L88.47 79.51 L89.09 81.65 L89.72 83.82 L90.35 86.02 L90.98 88.26 L91.62 90.53 L92.27 92.83 L92.92 95.16 L93.57 97.52 L94.23 99.90 L94.90 102.32 L95.57 104.76 L96.25 107.22 L96.93 109.72 L97.61 112.23 L98.31 114.78 L99.00 117.34 L99.71 119.93 L100.42 122.53 L101.13 125.16 L101.85 127.81 L102.57 130.48 L103.31 133.17 L104.04 135.87 L104.78 138.59 L105.53 141.33 L106.29 144.08 L107.05 146.85 L107.81 149.63 L108.58 152.43 L109.36 155.24 L110.14 158.06 L110.93 160.89 L111.73 163.73 L112.53 166.59 L113.34 169.45 L114.16 172.32 L114.98 175.20 L115.81 178.09 L116.64 180.98 L117.48 183.88 L118.33 186.79 L119.18 189.70 L120.04 192.61 L120.91 195.53 L121.78 198.45 L122.66 201.38 L123.55 204.31 L124.45 207.24 L125.35 210.17 L126.26 213.10 L127.17 216.03 L128.09 218.96 L129.02 221.89 L129.96 224.81 L130.91 227.74 L131.86 230.66 L132.82 233.58 L133.78 236.50 L134.76 239.41 L135.74 242.32 L136.73 245.23 L137.73 248.12 L138.73 251.02 L139.75 253.91 L140.77 256.79 L141.80 259.66 L142.83 262.53 L143.88 265.39 L144.93 268.24 L145.99 271.08 L147.06 273.91 L148.14 276.74 L149.23 279.55 L150.32 282.36 L151.43 285.16 L152.54 287.94 L153.66 290.72 L154.79 293.48 L155.93 296.24 L157.07 298.98 L158.23 301.71 L159.40 304.43 L160.57 307.13 L161.75 309.83 L162.95 312.51 L164.15 315.18 L165.36 317.84 L166.58 320.49 L167.81 323.12 L169.05 325.74 L170.30 328.36 L171.56 330.95 L172.83 333.54 L174.11 336.11 L175.40 338.67 L176.70 341.22 L178.01 343.76 L179.33 346.28 L180.66 348.80 L182.00 351.30 L183.35 353.78 L184.71 356.26 L186.08 358.72 L187.46 361.17 L188.86 363.61 L190.26 366.03 L191.68 368.44 L193.10 370.84 L194.54 373.23 L195.99 375.60 L197.45 377.96 L198.92 380.31 L200.40 382.64 L201.90 384.97 L203.40 387.28 L204.92 389.57 L206.45 391.86 L207.99 394.13 L209.55 396.39 L211.11 398.64 L212.69 400.87 L214.28 403.09 L215.88 405.30 L217.50 407.49 L219.13 409.68 L220.77 411.84 L222.42 414.00 L224.09 416.15 L225.77 418.28 L227.46 420.40 L229.16 422.50 L230.88 424.59 L232.61 426.68 L234.36 428.74 L236.12 430.80 L237.89 432.84 L239.68 434.87 L241.48 436.89 L243.30 438.89 L245.13 440.88 L246.97 442.86 L248.83 444.83 L250.70 446.78 L252.59 448.72 L254.49 450.65 L256.40 452.57 L258.34 454.47 L260.28 456.36 L262.24 458.24 L264.22 460.11 L266.21 461.96 L268.22 463.80 L270.25 465.63 L272.29 467.45 L274.34 469.25 L276.41 471.04 L278.50 472.82 L280.61 474.59 L282.73 476.35 L284.86 478.09 L287.02 479.82 L289.19 481.54 L291.37 483.25 L293.58 484.94 L295.80 486.63 L298.04 488.30 L300.30 489.96 L302.57 491.61 L304.86 493.24 L307.17 494.87 L309.50 496.48 L311.85 498.08 L314.21 499.67 L316.59 501.25 L318.99 502.82 L321.41 504.38 L323.85 505.92 L326.31 507.46 L328.79 508.98 L331.28 510.49 L333.80 511.99 L336.34 513.49 L338.89 514.97 L341.47 516.43 L344.06 517.89 L346.68 519.34 L349.31 520.78 L351.97 522.20 L354.65 523.62 L357.35 525.02 L360.07 526.42 L362.81 527.80 L365.57 529.17 L368.35 530.54 L371.16 531.89 L373.99 533.23 L376.84 534.57 L379.71 535.89 L382.60 537.20 L385.52 538.50 L388.46 539.79 L391.42 541.08 L394.40 542.35 L397.41 543.61 L400.45 544.86 L403.50 546.11 L406.58 547.34 L409.68 548.56 L412.81 549.78 L415.97 550.98 L419.14 552.18 L422.34 553.36 L425.57 554.54 L428.82 555.70 L432.10 556.86 L435.40 558.01 L438.73 559.15 L442.09 560.27 L445.47 561.39 L448.87 562.50 L452.31 563.61 L455.77 564.70 L459.26 565.78 L462.77 566.85 L466.31 567.92 L469.88 568.98 L473.48 570.02 L477.11 571.06 L480.76 572.09 L484.44 573.11 L488.16 574.12 L491.90 575.13 L495.67 576.12 L499.47 577.11 L503.29 578.09 L507.15 579.06 L511.04 580.02 L514.96 580.97 L518.91 581.91 L522.89 582.85 L526.90 583.78 L530.95 584.70 L535.02 585.61 L539.13 586.51 L543.27 587.40 L547.44 588.29 L551.64 589.17 L555.87 590.04 L560.14 590.90 L564.45 591.76 L568.78 592.60 L573.15 593.44 L577.56 594.27 L581.99 595.10 L586.47 595.91 L590.98 596.72 L595.52 597.52 L600.10 598.32 L604.71 599.10 L609.36 599.88 L614.05 600.65 L618.77 601.41 L623.53 602.17 L628.33 602.92 L633.16 603.66 L638.04 604.39 L642.95 605.12 L647.89 605.84 L652.88 606.56 L657.91 607.26 L662.97 607.96 L668.08 608.65 L673.22 609.34 L678.41 610.02 L683.63 610.69 L688.90 611.35 L694.21 612.01 L699.56 612.66 L704.95 613.31 L710.38 613.95 L715.85 614.58 L721.37 615.20 L726.93 615.82" stroke="#ff0000" stroke-width="3.9" stroke-dashoffset="8"/>
<path d="M79.17 55.71 L79.72 57.43 L80.27 59.19 L80.82 60.98 L81.39 62.82 L81.95 64.69 L82.52 66.60 L83.09 68.54 L83.67 70.52 L84.26 72.54 L84.84 74.59 L85.44 76.67 L86.03 78.78 L86.64 80.93 L87.24 83.11 L87.85 85.32 L88.47 87.55 L89.09 89.82 L89.72 92.12 L90.35 94.44 L90.98 96.79 L91.62 99.17 L92.27 101.57 L92.92 104.00 L93.57 106.45 L94.23 108.93 L94.90 111.42 L95.57 113.94 L96.25 116.49 L96.93 119.05 L97.61 121.63 L98.31 124.24 L99.00 126.86 L99.71 129.50 L100.42 132.16 L101.13 134.83 L101.85 137.52 L102.57 140.23 L103.31 142.95 L104.04 145.69 L104.78 148.44 L105.53 151.20 L106.29 153.98 L107.05 156.76 L107.81 159.56 L108.58 162.37 L109.36 165.19 L110.14 168.02 L110.93 170.86 L111.73 173.71 L112.53 176.56 L113.34 179.42 L114.16 182.29 L114.98 185.16 L115.81 188.04 L116.64 190.93 L117.48 193.82 L118.33 196.71 L119.18 199.61 L120.04 202.51 L120.91 205.41 L121.78 208.32 L122.66 211.22 L123.55 214.13 L124.45 217.04 L125.35 219.94 L126.26 222.85 L127.17 225.76 L128.09 228.66 L129.02 231.56 L129.96 234.46 L130.91 237.36 L131.86 240.26 L132.82 243.15 L133.78 246.04 L134.76 248.92 L135.74 251.80 L136.73 254.67 L137.73 257.54 L138.73 260.40 L139.75 263.26 L140.77 266.11 L141.80 268.95 L142.83 271.79 L143.88 274.62 L144.93 277.44 L145.99 280.25 L147.06 283.05 L148.14 285.85 L149.23 288.64 L150.32 291.41 L151.43 294.18 L152.54 296.94 L153.66 299.69 L154.79 302.42 L155.93 305.15 L157.07 307.86 L158.23 310.57 L159.40 313.26 L160.57 315.94 L161.75 318.61 L162.95 321.27 L164.15 323.92 L165.36 326.55 L166.58 329.17 L167.81 331.78 L169.05 334.37 L170.30 336.96 L171.56 339.52 L172.83 342.08 L174.11 344.62 L175.40 347.15 L176.70 349.66 L178.01 352.16 L179.33 354.65 L180.66 357.12 L182.00 359.58 L183.35 362.02 L184.71 364.44 L186.08 366.86 L187.46 369.26 L188.86 371.64 L190.26 374.01 L191.68 376.36 L193.10 378.70 L194.54 381.02 L195.99 383.33 L197.45 385.62 L198.92 387.89 L200.40 390.15 L201.90 392.40 L203.40 394.63 L204.92 396.84 L206.45 399.04 L207.99 401.23 L209.55 403.40 L211.11 405.55 L212.69 407.69 L214.28 409.82 L215.88 411.94 L217.50 414.04 L219.13 416.13 L220.77 418.20 L222.42 420.26 L224.09 422.31 L225.77 424.35 L227.46 426.37 L229.16 428.38 L230.88 430.38 L232.61 432.37 L234.36 434.35 L236.12 436.31 L237.89 438.26 L239.68 440.20 L241.48 442.13 L243.30 444.05 L245.13 445.96 L246.97 447.85 L248.83 449.74 L250.70 451.61 L252.59 453.47 L254.49 455.33 L256.40 457.17 L258.34 459.00 L260.28 460.82 L262.24 462.63 L264.22 464.44 L266.21 466.23 L268.22 468.01 L270.25 469.78 L272.29 471.54 L274.34 473.29 L276.41 475.04 L278.50 476.77 L280.61 478.49 L282.73 480.21 L284.86 481.91 L287.02 483.61 L289.19 485.29 L291.37 486.97 L293.58 488.63 L295.80 490.29 L298.04 491.93 L300.30 493.57 L302.57 495.20 L304.86 496.81 L307.17 498.42 L309.50 500.01 L311.85 501.59 L314.21 503.17 L316.59 504.73 L318.99 506.28 L321.41 507.83 L323.85 509.36 L326.31 510.88 L328.79 512.39 L331.28 513.89 L333.80 515.38 L336.34 516.86 L338.89 518.33 L341.47 519.78 L344.06 521.23 L346.68 522.67 L349.31 524.09 L351.97 525.51 L354.65 526.91 L357.35 528.30 L360.07 529.69 L362.81 531.06 L365.57 532.42 L368.35 533.77 L371.16 535.11 L373.99 536.44 L376.84 537.76 L379.71 539.06 L382.60 540.36 L385.52 541.65 L388.46 542.93 L391.42 544.19 L394.40 545.45 L397.41 546.69 L400.45 547.93 L403.50 549.15 L406.58 550.36 L409.68 551.57 L412.81 552.76 L415.97 553.94 L419.14 555.12 L422.34 556.28 L425.57 557.43 L428.82 558.57 L432.10 559.71 L435.40 560.83 L438.73 561.94 L442.09 563.04 L445.47 564.13 L448.87 565.22 L452.31 566.29 L455.77 567.35 L459.26 568.40 L462.77 569.45 L466.31 570.48 L469.88 571.51 L473.48 572.52 L477.11 573.52 L480.76 574.52 L484.44 575.50 L488.16 576.48 L491.90 577.45 L495.67 578.41 L499.47 579.35 L503.29 580.29 L507.15 581.22 L511.04 582.14 L514.96 583.05 L518.91 583.96 L522.89 584.85 L526.90 585.73 L530.95 586.61 L535.02 587.47 L539.13 588.33 L543.27 589.18 L547.44 590.02 L551.64 590.85 L555.87 591.67 L560.14 592.49 L564.45 593.29 L568.78 594.09 L573.15 594.87 L577.56 595.65 L581.99 596.42 L586.47 597.19 L590.98 597.94 L595.52 598.69 L600.10 599.42 L604.71 600.15 L609.36 600.87 L614.05 601.59 L618.77 602.29 L623.53 602.99 L628.33 603.68 L633.16 604.36 L638.04 605.03 L642.95 605.70 L647.89 606.36 L652.88 607.01 L657.91 607.65 L662.97 608.29 L668.08 608.92 L673.22 609.54 L678.41 610.15 L683.63 610.76 L688.90 611.36 L694.21 611.95 L699.56 612.53 L704.95 613.11 L710.38 613.68 L715.85 614.25 L721.37 614.81 L726.93 615.36" stroke="#00ff00" stroke-width="3.9"/>
<path d="M79.17 29.33 L79.72 30.88 L80.27 32.48 L80.82 34.13 L81.39 35.83 L81.95 37.58 L82.52 39.38 L83.09 41.21 L83.67 43.10 L84.26 45.03 L84.84 47.00 L85.44 49.01 L86.03 51.06 L86.64 53.16 L87.24 55.29 L87.85 57.47 L88.47 59.68 L89.09 61.93 L89.72 64.21 L90.35 66.53 L90.98 68.89 L91.62 71.28 L92.27 73.70 L92.92 76.15 L93.57 78.64 L94.23 81.15 L94.90 83.70 L95.57 86.27 L96.25 88.87 L96.93 91.50 L97.61 94.16 L98.31 96.84 L99.00 99.54 L99.71 102.27 L100.42 105.02 L101.13 107.80 L101.85 110.59 L102.57 113.41 L103.31 116.24 L104.04 119.10 L104.78 121.97 L105.53 124.86 L106.29 127.76 L107.05 130.69 L107.81 133.62 L108.58 136.57 L109.36 139.54 L110.14 142.52 L110.93 145.51 L111.73 148.51 L112.53 151.52 L113.34 154.54 L114.16 157.57 L114.98 160.61 L115.81 163.66 L116.64 166.71 L117.48 169.77 L118.33 172.84 L119.18 175.91 L120.04 178.99 L120.91 182.07 L121.78 185.16 L122.66 188.24 L123.55 191.33 L124.45 194.42 L125.35 197.51 L126.26 200.61 L127.17 203.70 L128.09 206.79 L129.02 209.88 L129.96 212.97 L130.91 216.05 L131.86 219.13 L132.82 222.21 L133.78 225.29 L134.76 228.36 L135.74 231.43 L136.73 234.49 L137.73 237.54 L138.73 240.59 L139.75 243.63 L140.77 246.67 L141.80 249.70 L142.83 252.72 L143.88 255.73 L144.93 258.73 L145.99 261.72 L147.06 264.71 L148.14 267.68 L149.23 270.65 L150.32 273.60 L151.43 276.54 L152.54 279.48 L153.66 282.40 L154.79 285.31 L155.93 288.20 L157.07 291.09 L158.23 293.96 L159.40 296.81 L160.57 299.66 L161.75 302.49 L162.95 305.31 L164.15 308.11 L165.36 310.90 L166.58 313.68 L167.81 316.44 L169.05 319.18 L170.30 321.91 L171.56 324.63 L172.83 327.33 L174.11 330.01 L175.40 332.68 L176.70 335.33 L178.01 337.97 L179.33 340.59 L180.66 343.19 L182.00 345.78 L183.35 348.35 L184.71 350.90 L186.08 353.44 L187.46 355.96 L188.86 358.46 L190.26 360.94 L191.68 363.41 L193.10 365.86 L194.54 368.29 L195.99 370.71 L197.45 373.10 L198.92 375.48 L200.40 377.84 L201.90 380.19 L203.40 382.51 L204.92 384.82 L206.45 387.11 L207.99 389.38 L209.55 391.63 L211.11 393.87 L212.69 396.08 L214.28 398.28 L215.88 400.47 L217.50 402.64 L219.13 404.79 L220.77 406.92 L222.42 409.04 L224.09 411.15 L225.77 413.24 L227.46 415.32 L229.16 417.38 L230.88 419.43 L232.61 421.46 L234.36 423.49 L236.12 425.50 L237.89 427.49 L239.68 429.48 L241.48 431.45 L243.30 433.41 L245.13 435.36 L246.97 437.30 L248.83 439.23 L250.70 441.14 L252.59 443.05 L254.49 444.94 L256.40 446.83 L258.34 448.70 L260.28 450.57 L262.24 452.42 L264.22 454.27 L266.21 456.11 L268.22 457.93 L270.25 459.75 L272.29 461.56 L274.34 463.36 L276.41 465.16 L278.50 466.94 L280.61 468.71 L282.73 470.48 L284.86 472.24 L287.02 473.99 L289.19 475.73 L291.37 477.47 L293.58 479.19 L295.80 480.90 L298.04 482.61 L300.30 484.30 L302.57 485.99 L304.86 487.67 L307.17 489.33 L309.50 490.99 L311.85 492.64 L314.21 494.27 L316.59 495.90 L318.99 497.52 L321.41 499.12 L323.85 500.72 L326.31 502.30 L328.79 503.88 L331.28 505.44 L333.80 506.99 L336.34 508.53 L338.89 510.07 L341.47 511.59 L344.06 513.10 L346.68 514.60 L349.31 516.09 L351.97 517.57 L354.65 519.03 L357.35 520.49 L360.07 521.94 L362.81 523.37 L365.57 524.80 L368.35 526.22 L371.16 527.62 L373.99 529.01 L376.84 530.40 L379.71 531.77 L382.60 533.13 L385.52 534.49 L388.46 535.83 L391.42 537.16 L394.40 538.48 L397.41 539.79 L400.45 541.09 L403.50 542.38 L406.58 543.66 L409.68 544.93 L412.81 546.19 L415.97 547.43 L419.14 548.67 L422.34 549.90 L425.57 551.12 L428.82 552.33 L432.10 553.52 L435.40 554.71 L438.73 555.89 L442.09 557.06 L445.47 558.21 L448.87 559.36 L452.31 560.50 L455.77 561.63 L459.26 562.75 L462.77 563.86 L466.31 564.95 L469.88 566.04 L473.48 567.12 L477.11 568.19 L480.76 569.25 L484.44 570.30 L488.16 571.34 L491.90 572.37 L495.67 573.40 L499.47 574.41 L503.29 575.41 L507.15 576.40 L511.04 577.39 L514.96 578.36 L518.91 579.33 L522.89 580.28 L526.90 581.23 L530.95 582.16 L535.02 583.09 L539.13 584.01 L543.27 584.91 L547.44 585.81 L551.64 586.70 L555.87 587.58 L560.14 588.45 L564.45 589.32 L568.78 590.17 L573.15 591.01 L577.56 591.85 L581.99 592.67 L586.47 593.49 L590.98 594.30 L595.52 595.10 L600.10 595.89 L604.71 596.67 L609.36 597.44 L614.05 598.20 L618.77 598.96 L623.53 599.70 L628.33 600.44 L633.16 601.17 L638.04 601.89 L642.95 602.60 L647.89 603.31 L652.88 604.00 L657.91 604.69 L662.97 605.37 L668.08 606.04 L673.22 606.70 L678.41 607.36 L683.63 608.00 L688.90 608.64 L694.21 609.27 L699.56 609.90 L704.95 610.51 L710.38 611.12 L715.85 611.72 L721.37 612.31 L726.93 612.90" stroke="#0000ff" stroke-width="3.9"/>
</g>
<g clip-path="url(#cp)" fill="none" stroke="#fff" stroke-width="0.8" opacity="0.75">
<path d="M79.17 387.27 L79.72 388.20 L80.27 389.14 L80.82 390.09 L81.39 391.06 L81.95 392.04 L82.52 393.03 L83.09 394.03 L83.67 395.04 L84.26 396.07 L84.84 397.10 L85.44 398.15 L86.03 399.20 L86.64 400.27 L87.24 401.34 L87.85 402.43 L88.47 403.52 L89.09 404.63 L89.72 405.74 L90.35 406.86 L90.98 407.99 L91.62 409.13 L92.27 410.27 L92.92 411.43 L93.57 412.59 L94.23 413.75 L94.90 414.93 L95.57 416.11 L96.25 417.30 L96.93 418.49 L97.61 419.69 L98.31 420.90 L99.00 422.11 L99.71 423.33 L100.42 424.55 L101.13 425.77 L101.85 427.01 L102.57 428.24 L103.31 429.48 L104.04 430.73 L104.78 431.98 L105.53 433.23 L106.29 434.48 L107.05 435.74 L107.81 437.00 L108.58 438.27 L109.36 439.54 L110.14 440.81 L110.93 442.08 L111.73 443.35 L112.53 444.63 L113.34 445.91 L114.16 447.18 L114.98 448.47 L115.81 449.75 L116.64 451.03 L117.48 452.31 L118.33 453.60 L119.18 454.88 L120.04 456.17 L120.91 457.45 L121.78 458.73 L122.66 460.02 L123.55 461.30 L124.45 462.59 L125.35 463.87 L126.26 465.15 L127.17 466.43 L128.09 467.71 L129.02 468.99 L129.96 470.27 L130.91 471.54 L131.86 472.81 L132.82 474.09 L133.78 475.35 L134.76 476.62 L135.74 477.89 L136.73 479.15 L137.73 480.41 L138.73 481.67 L139.75 482.92 L140.77 484.17 L141.80 485.42 L142.83 486.67 L143.88 487.91 L144.93 489.15 L145.99 490.38 L147.06 491.61 L148.14 492.84 L149.23 494.06 L150.32 495.28 L151.43 496.50 L152.54 497.71 L153.66 498.92 L154.79 500.12 L155.93 501.32 L157.07 502.52 L158.23 503.71 L159.40 504.89 L160.57 506.07 L161.75 507.25 L162.95 508.42 L164.15 509.59 L165.36 510.75 L166.58 511.91 L167.81 513.06 L169.05 514.20 L170.30 515.34 L171.56 516.48 L172.83 517.61 L174.11 518.73 L175.40 519.85 L176.70 520.97 L178.01 522.07 L179.33 523.18 L180.66 524.27 L182.00 525.36 L183.35 526.45 L184.71 527.53 L186.08 528.60 L187.46 529.67 L188.86 530.73 L190.26 531.78 L191.68 532.83 L193.10 533.88 L194.54 534.92 L195.99 535.95 L197.45 536.97 L198.92 537.99 L200.40 539.00 L201.90 540.01 L203.40 541.01 L204.92 542.00 L206.45 542.99 L207.99 543.97 L209.55 544.95 L211.11 545.92 L212.69 546.88 L214.28 547.84 L215.88 548.80 L217.50 549.74 L219.13 550.68 L220.77 551.62 L222.42 552.55 L224.09 553.47 L225.77 554.39 L227.46 555.30 L229.16 556.21 L230.88 557.11 L232.61 558.00 L234.36 558.89 L236.12 559.77 L237.89 560.65 L239.68 561.53 L241.48 562.39 L243.30 563.25 L245.13 564.11 L246.97 564.96 L248.83 565.81 L250.70 566.65 L252.59 567.48 L254.49 568.31 L256.40 569.14 L258.34 569.96 L260.28 570.77 L262.24 571.58 L264.22 572.38 L266.21 573.18 L268.22 573.98 L270.25 574.76 L272.29 575.55 L274.34 576.33 L276.41 577.10 L278.50 577.87 L280.61 578.63 L282.73 579.39 L284.86 580.14 L287.02 580.89 L289.19 581.63 L291.37 582.37 L293.58 583.11 L295.80 583.84 L298.04 584.56 L300.30 585.28 L302.57 585.99 L304.86 586.70 L307.17 587.41 L309.50 588.11 L311.85 588.81 L314.21 589.50 L316.59 590.18 L318.99 590.86 L321.41 591.54 L323.85 592.21 L326.31 592.88 L328.79 593.55 L331.28 594.20 L333.80 594.86 L336.34 595.51 L338.89 596.15 L341.47 596.80 L344.06 597.43 L346.68 598.06 L349.31 598.69 L351.97 599.32 L354.65 599.93 L357.35 600.55 L360.07 601.16 L362.81 601.76 L365.57 602.37 L368.35 602.96 L371.16 603.56 L373.99 604.15 L376.84 604.73 L379.71 605.31 L382.60 605.89 L385.52 606.46 L388.46 607.03 L391.42 607.59 L394.40 608.15 L397.41 608.71 L400.45 609.26 L403.50 609.80 L406.58 610.35 L409.68 610.89 L412.81 611.42 L415.97 611.95 L419.14 612.48 L422.34 613.00 L425.57 613.52 L428.82 614.04 L432.10 614.55 L435.40 615.06 L438.73 615.56 L442.09 616.06 L445.47 616.56 L448.87 617.05 L452.31 617.54 L455.77 618.02 L459.26 618.50 L462.77 618.98 L466.31 619.45 L469.88 619.92 L473.48 620.39 L477.11 620.85 L480.76 621.31 L484.44 621.76 L488.16 622.21 L491.90 622.66 L495.67 623.10 L499.47 623.54 L503.29 623.98 L507.15 624.41 L511.04 624.84 L514.96 625.27 L518.91 625.69 L522.89 626.11 L526.90 626.52 L530.95 626.94 L535.02 627.34 L539.13 627.75 L543.27 628.15 L547.44 628.55 L551.64 628.94 L555.87 629.33 L560.14 629.72 L564.45 630.11 L568.78 630.49 L573.15 630.87 L577.56 631.24 L581.99 631.61 L586.47 631.98 L590.98 632.34 L595.52 632.71 L600.10 633.06 L604.71 633.42 L609.36 633.77 L614.05 634.12 L618.77 634.46 L623.53 634.81 L628.33 635.15 L633.16 635.48 L638.04 635.82 L642.95 636.15 L647.89 636.47 L652.88 636.80 L657.91 637.12 L662.97 637.43 L668.08 637.75 L673.22 638.06 L678.41 638.37 L683.63 638.68 L688.90 638.98 L694.21 639.28 L699.56 639.58 L704.95 639.87 L710.38 640.16 L715.85 640.45 L721.37 640.74 L726.93 641.02"/>
</g>

<!-- frame + ticks -->
<rect x="80.6" y="18.1" width="644.9" height="644.5" fill="none" stroke="#505050" stroke-width="1.1"/>
<path d="M80.60 662.60h8.3M725.50 662.60h-8.3M80.60 639.58h4.9M725.50 639.58h-4.9M80.60 616.56h4.9M725.50 616.56h-4.9M80.60 593.55h4.9M725.50 593.55h-4.9M80.60 570.53h8.3M725.50 570.53h-8.3M80.60 547.51h4.9M725.50 547.51h-4.9M80.60 524.49h4.9M725.50 524.49h-4.9M80.60 501.48h4.9M725.50 501.48h-4.9M80.60 478.46h8.3M725.50 478.46h-8.3M80.60 455.44h4.9M725.50 455.44h-4.9M80.60 432.42h4.9M725.50 432.42h-4.9M80.60 409.40h4.9M725.50 409.40h-4.9M80.60 386.39h8.3M725.50 386.39h-8.3M80.60 363.37h4.9M725.50 363.37h-4.9M80.60 340.35h4.9M725.50 340.35h-4.9M80.60 317.33h4.9M725.50 317.33h-4.9M80.60 294.31h8.3M725.50 294.31h-8.3M80.60 271.30h4.9M725.50 271.30h-4.9M80.60 248.28h4.9M725.50 248.28h-4.9M80.60 225.26h4.9M725.50 225.26h-4.9M80.60 202.24h8.3M725.50 202.24h-8.3M80.60 179.23h4.9M725.50 179.23h-4.9M80.60 156.21h4.9M725.50 156.21h-4.9M80.60 133.19h4.9M725.50 133.19h-4.9M80.60 110.17h8.3M725.50 110.17h-8.3M80.60 87.15h4.9M725.50 87.15h-4.9M80.60 64.14h4.9M725.50 64.14h-4.9M80.60 41.12h4.9M725.50 41.12h-4.9M80.60 18.10h8.3M725.50 18.10h-8.3M80.60 662.60v-4.9M80.60 18.10v4.9M116.43 662.60v-4.9M116.43 18.10v4.9M152.26 662.60v-8.3M152.26 18.10v8.3M188.08 662.60v-4.9M188.08 18.10v4.9M223.91 662.60v-4.9M223.91 18.10v4.9M259.74 662.60v-4.9M259.74 18.10v4.9M295.57 662.60v-8.3M295.57 18.10v8.3M331.39 662.60v-4.9M331.39 18.10v4.9M367.22 662.60v-4.9M367.22 18.10v4.9M403.05 662.60v-4.9M403.05 18.10v4.9M438.88 662.60v-8.3M438.88 18.10v8.3M474.71 662.60v-4.9M474.71 18.10v4.9M510.53 662.60v-4.9M510.53 18.10v4.9M546.36 662.60v-4.9M546.36 18.10v4.9M582.19 662.60v-8.3M582.19 18.10v8.3M618.02 662.60v-4.9M618.02 18.10v4.9M653.84 662.60v-4.9M653.84 18.10v4.9M689.67 662.60v-4.9M689.67 18.10v4.9M725.50 662.60v-8.3M725.50 18.10v8.3" stroke="#505050" stroke-width="0.95" fill="none"/>

<!-- tick labels -->
<text class="b" font-size="29.6" text-anchor="end" transform="translate(73.60 672.80) scale(1.000 1.030)">0</text><text class="b" font-size="29.6" text-anchor="end" transform="translate(73.60 580.73) scale(1.000 1.030)">2</text><text class="b" font-size="29.6" text-anchor="end" transform="translate(73.60 488.66) scale(1.000 1.030)">4</text><text class="b" font-size="29.6" text-anchor="end" transform="translate(73.60 396.59) scale(1.000 1.030)">6</text><text class="b" font-size="29.6" text-anchor="end" transform="translate(73.60 304.51) scale(1.000 1.030)">8</text><text class="b" font-size="29.6" text-anchor="end" transform="translate(73.60 212.44) scale(1.000 1.030)">10</text><text class="b" font-size="29.6" text-anchor="end" transform="translate(73.60 120.37) scale(1.000 1.030)">12</text><text class="b" font-size="29.6" text-anchor="end" transform="translate(73.60 28.30) scale(1.000 1.030)">14</text><text class="b" font-size="29.6" text-anchor="middle" transform="translate(152.26 696.00) scale(1.000 1.030)">20</text><text class="b" font-size="29.6" text-anchor="middle" transform="translate(295.57 696.00) scale(1.000 1.030)">40</text><text class="b" font-size="29.6" text-anchor="middle" transform="translate(438.88 696.00) scale(1.000 1.030)">60</text><text class="b" font-size="29.6" text-anchor="middle" transform="translate(582.19 696.00) scale(1.000 1.030)">80</text><text class="b" font-size="29.6" text-anchor="middle" transform="translate(725.50 696.00) scale(1.000 1.030)">100</text>

<!-- axis labels -->
<text class="b" font-size="29.5" text-anchor="start" transform="translate(342.60 740.20) scale(1.000 0.970)"><tspan class="bi">m</tspan><tspan class="bi" font-size="20.7" dy="4.8">S</tspan><tspan dy="-4.8" dx="1.7"> [GeV]</tspan></text>
<g transform="translate(26.5 355.4) rotate(-90)"><text class="bi" font-size="29.5" text-anchor="start" transform="translate(0.00 0.00) scale(1.000 1.030)">R<tspan font-size="20.7" dy="4.6" style="font-style:normal">2</tspan></text></g>

<!-- legend -->
<path d="M450.9 63.9H498.5" stroke="#000" stroke-width="4.2"/>
<path d="M450.9 109.7H498.5" stroke="#000" stroke-width="4.2" stroke-dasharray="6.7 3.5"/>
<path d="M450.9 156.2H498.5" stroke="#f00" stroke-width="4.6" stroke-dasharray="12.7 3.75"/>
<text class="b" font-size="29.5" text-anchor="start" transform="translate(505.80 74.60) scale(1.000 1.000)">SM H(inv)Z</text>
<text class="b" font-size="29.5" text-anchor="start" transform="translate(507.80 120.50) scale(1.005 1.000)">SM Z(inv)Z/3</text>
<text class="b" font-size="29.5" text-anchor="start" transform="translate(513.00 166.30) scale(0.975 1.000)">induced by <tspan class="bi">O</tspan><tspan font-size="20.7" dy="4.3" dx="1">Z</tspan></text>

<!-- curve labels -->
<text class="b" font-size="25" text-anchor="start" transform="translate(431.40 430.80) scale(1.020 1.025)"><tspan class="bi">p</tspan><tspan class="bi" font-size="17.5" dy="3.5">T</tspan><tspan font-size="17.5" dy="-13.3" dx="2.8">cut</tspan></text><path d="M483.00 422.40h14.8M483.00 427.60h14.8" stroke="#000" stroke-width="2.4" fill="none"/><text class="b" font-size="25" text-anchor="start" transform="translate(499.60 430.80) scale(1.020 1.025)">200<tspan dx="-2.2"> GeV</tspan></text>
<text class="b" font-size="25" text-anchor="start" transform="translate(145.00 615.00) scale(1.020 1.025)"><tspan class="bi">p</tspan><tspan class="bi" font-size="17.5" dy="3.5">T</tspan><tspan font-size="17.5" dy="-13.3" dx="2.8">cut</tspan></text><path d="M196.60 606.60h14.8M196.60 611.80h14.8" stroke="#000" stroke-width="2.4" fill="none"/><text class="b" font-size="25" text-anchor="start" transform="translate(213.20 615.00) scale(1.020 1.025)">100<tspan dx="-2.2"> GeV</tspan></text>

<!-- annotation text -->
<text class="r" font-size="24" text-anchor="start" transform="translate(103.20 394.50) scale(1.030 1.030)">2&#916;R<tspan font-size="17" dy="4">2</tspan></text>
<text class="r" font-size="24" text-anchor="start" transform="translate(173.60 467.80) scale(1.030 1.030)">2&#916;m<tspan font-size="17" dy="4" font-style="italic">S</tspan></text>
</svg>
</body></html>
